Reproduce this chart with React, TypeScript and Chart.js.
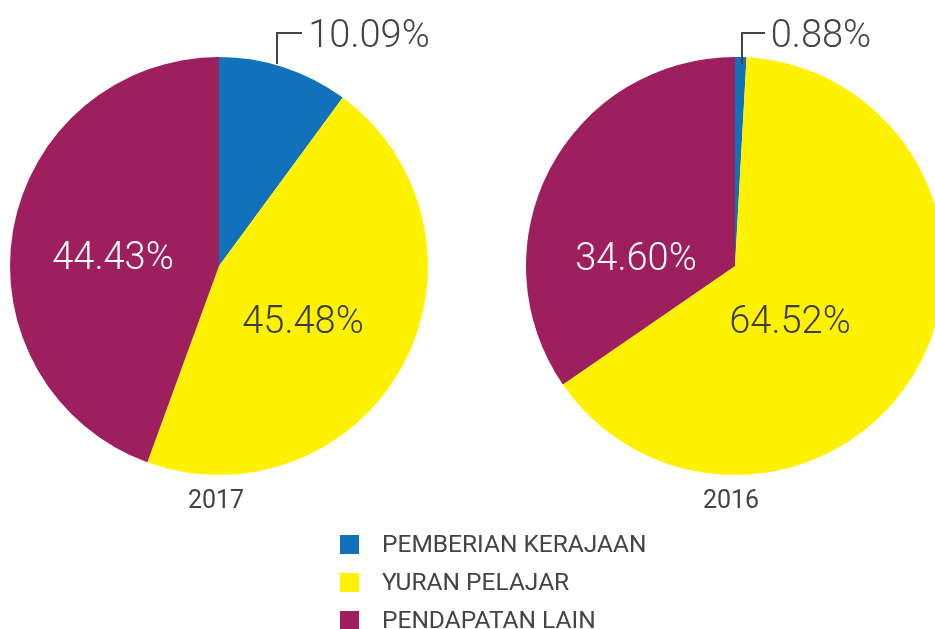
import React, { useEffect, useRef } from "react";
import { Chart, registerables } from "chart.js";

Chart.register(...registerables);

const categories = ["PEMBERIAN KERAJAAN", "YURAN PELAJAR", "PENDAPATAN LAIN"];
const colors = ["#1171BA", "#FFF200", "#9E1F5E"];
const values2017 = [10.09, 45.48, 44.43];
const values2016 = [0.88, 64.52, 34.6];
const years = ["2017", "2016"];

const FONT = "Roboto, 'Open Sans', sans-serif";

function Pie({ values, left }: { values: number[]; left: number }) {
  const ref = useRef<HTMLCanvasElement>(null);
  useEffect(() => {
    if (!ref.current) return;
    const chart = new Chart(ref.current, {
      type: "pie",
      data: {
        labels: categories,
        datasets: [
          {
            data: values,
            backgroundColor: colors,
            borderWidth: 0,
            hoverOffset: 0,
            offset: 0,
          },
        ],
      },
      options: {
        responsive: false,
        animation: false,
        layout: { padding: 0 },
        plugins: { legend: { display: false }, tooltip: { enabled: false } },
      },
    });
    return () => chart.destroy();
  }, []);
  return (
    <canvas
      ref={ref}
      width={418}
      height={418}
      style={{ position: "absolute", left, top: 57, width: 418, height: 418 }}
    />
  );
}

const fmt = (v: number) => v.toFixed(2) + "%";

function Label({ x, y, text, color, weight = 300 }: { x: number; y: number; text: string; color: string; weight?: number }) {
  return (
    <div
      style={{
        position: "absolute",
        left: x,
        top: y,
        transform: "translate(-50%, -50%)",
        fontFamily: FONT,
        fontWeight: weight,
        fontSize: 38,
        lineHeight: 1,
        color,
        whiteSpace: "nowrap",
      }}
    >
      {text}
    </div>
  );
}

export default function App() {
  return (
    <div
      style={{
        position: "fixed",
        left: 0,
        top: 0,
        width: 935,
        height: 629,
        overflow: "hidden",
        background: "#fff",
      }}
    >
      <Pie values={values2017} left={10} />
      <Pie values={values2016} left={526} />
      <svg
        width={935}
        height={629}
        style={{ position: "absolute", left: 0, top: 0, pointerEvents: "none" }}
      >
        <polyline points="277,64 277,33 302,33" fill="none" stroke="#444" strokeWidth={2} />
        <polyline points="742,64 742,33 765,33" fill="none" stroke="#444" strokeWidth={2} />
      </svg>
      <Label x={369} y={34} text={fmt(values2017[0])} color="#444" />
      <Label x={821} y={34} text={fmt(values2016[0])} color="#444" />
      <Label x={113} y={256} text={fmt(values2017[2])} color="#fff" />
      <Label x={303} y={320} text={fmt(values2017[1])} color="#3c3c3c" />
      <Label x={636} y={257} text={fmt(values2016[2])} color="#fff" />
      <Label x={790} y={320} text={fmt(values2016[1])} color="#3c3c3c" />
      {years.map((y, i) => (
        <div
          key={y}
          style={{
            position: "absolute",
            left: i === 0 ? 216 : 731,
            top: 499,
            transform: "translate(-50%, -50%)",
            fontFamily: FONT,
            fontSize: 25,
            lineHeight: 1,
            color: "#444",
          }}
        >
          {y}
        </div>
      ))}
      {categories.map((c, i) => (
        <div
          key={c}
          style={{ position: "absolute", left: 340, top: 535 + i * 38, height: 19, display: "flex", alignItems: "center" }}
        >
          <div style={{ width: 19, height: 19, background: colors[i] }} />
          <div
            style={{
              marginLeft: 23,
              fontFamily: FONT,
              fontSize: 24.5,
              lineHeight: 1,
              color: "#444",
              whiteSpace: "nowrap",
            }}
          >
            {c}
          </div>
        </div>
      ))}
    </div>
  );
}
